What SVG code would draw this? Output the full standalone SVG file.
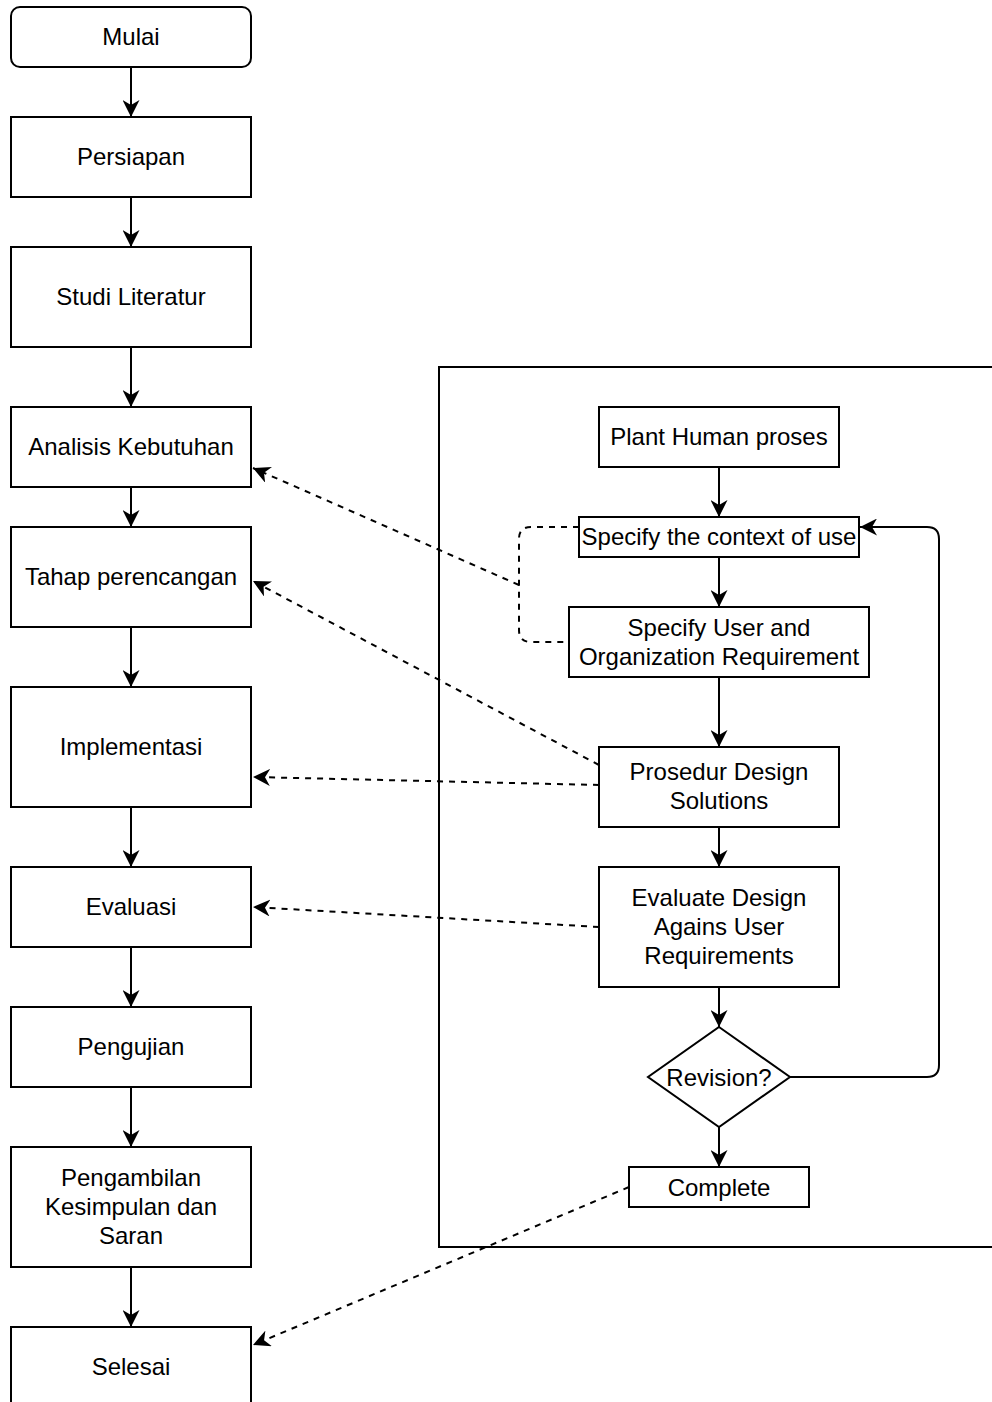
<svg xmlns="http://www.w3.org/2000/svg" width="992" height="1402" viewBox="0 0 992 1402">
<style>
.box{fill:#fff;stroke:#000;stroke-width:2}
.t{font-family:"Liberation Sans",Arial,sans-serif;font-size:24px;fill:#000;text-anchor:middle}
.c{fill:none;stroke:#000;stroke-width:2}
.d{fill:none;stroke:#000;stroke-width:2;stroke-dasharray:6 6}
</style>
<defs>
<marker id="a" viewBox="0 0 17 17" refX="17" refY="8.5" markerWidth="17" markerHeight="17" markerUnits="userSpaceOnUse" orient="auto">
<path d="M17,8.5 L0,0 L5,8.5 L0,17 Z" fill="#000"/>
</marker>
</defs>
<rect x="0" y="0" width="992" height="1402" fill="#fff"/>
<g id="container"><rect x="439" y="367" width="580" height="880" class="box" fill="none"/></g>
<g id="connectors">
<path class="c" marker-end="url(#a)" d="M131,67 V117"/>
<path class="c" marker-end="url(#a)" d="M131,197 V247"/>
<path class="c" marker-end="url(#a)" d="M131,347 V407"/>
<path class="c" marker-end="url(#a)" d="M131,487 V527"/>
<path class="c" marker-end="url(#a)" d="M131,627 V687"/>
<path class="c" marker-end="url(#a)" d="M131,807 V867"/>
<path class="c" marker-end="url(#a)" d="M131,947 V1007"/>
<path class="c" marker-end="url(#a)" d="M131,1087 V1147"/>
<path class="c" marker-end="url(#a)" d="M131,1267 V1327"/>
<path class="c" marker-end="url(#a)" d="M719,467 V517"/>
<path class="c" marker-end="url(#a)" d="M719,557 V607"/>
<path class="c" marker-end="url(#a)" d="M719,677 V747"/>
<path class="c" marker-end="url(#a)" d="M719,827 V867"/>
<path class="c" marker-end="url(#a)" d="M719,987 V1027"/>
<path class="c" marker-end="url(#a)" d="M719,1127 V1167"/>
<path class="c" marker-end="url(#a)" d="M790,1077 H927 Q939,1077 939,1065 V539 Q939,527 927,527 H860"/>
<path class="d" d="M579,527 H531 Q519,527 519,539 V630 Q519,642 531,642 H569"/>
<path class="d" marker-end="url(#a)" d="M519,585 L253,468"/>
<path class="d" marker-end="url(#a)" d="M599,765 L253,581"/>
<path class="d" marker-end="url(#a)" d="M599,785 L253,777"/>
<path class="d" marker-end="url(#a)" d="M599,927 L253,907"/>
<path class="d" marker-end="url(#a)" d="M629,1187 L253,1345"/>
</g>
<g id="mulai"><rect x="11" y="7" width="240" height="60" rx="9" class="box"/><text class="t" x="131" y="45">Mulai</text></g>
<g id="persiapan"><rect x="11" y="117" width="240" height="80" class="box"/><text class="t" x="131" y="165">Persiapan</text></g>
<g id="studi"><rect x="11" y="247" width="240" height="100" class="box"/><text class="t" x="131" y="305">Studi Literatur</text></g>
<g id="analisis"><rect x="11" y="407" width="240" height="80" class="box"/><text class="t" x="131" y="455">Analisis Kebutuhan</text></g>
<g id="tahap"><rect x="11" y="527" width="240" height="100" class="box"/><text class="t" x="131" y="585">Tahap perencangan</text></g>
<g id="implementasi"><rect x="11" y="687" width="240" height="120" class="box"/><text class="t" x="131" y="755">Implementasi</text></g>
<g id="evaluasi"><rect x="11" y="867" width="240" height="80" class="box"/><text class="t" x="131" y="915">Evaluasi</text></g>
<g id="pengujian"><rect x="11" y="1007" width="240" height="80" class="box"/><text class="t" x="131" y="1055">Pengujian</text></g>
<g id="pengambilan"><rect x="11" y="1147" width="240" height="120" class="box"/><text class="t" x="131" y="1186">Pengambilan</text><text class="t" x="131" y="1215">Kesimpulan dan</text><text class="t" x="131" y="1244">Saran</text></g>
<g id="selesai"><rect x="11" y="1327" width="240" height="84" class="box"/><text class="t" x="131" y="1375">Selesai</text></g>
<g id="plant"><rect x="599" y="407" width="240" height="60" class="box"/><text class="t" x="719" y="445">Plant Human proses</text></g>
<g id="context"><rect x="579" y="517" width="280" height="40" class="box"/><text class="t" x="719" y="545">Specify the context of use</text></g>
<g id="userreq"><rect x="569" y="607" width="300" height="70" class="box"/><text class="t" x="719" y="636">Specify User and</text><text class="t" x="719" y="665">Organization Requirement</text></g>
<g id="prosedur"><rect x="599" y="747" width="240" height="80" class="box"/><text class="t" x="719" y="780">Prosedur Design</text><text class="t" x="719" y="809">Solutions</text></g>
<g id="evaluate"><rect x="599" y="867" width="240" height="120" class="box"/><text class="t" x="719" y="906">Evaluate Design</text><text class="t" x="719" y="935">Agains User</text><text class="t" x="719" y="964">Requirements</text></g>
<g id="revision"><path d="M719,1027 L790,1077 L719,1127 L648,1077 Z" class="box"/><text class="t" x="719" y="1086">Revision?</text></g>
<g id="complete"><rect x="629" y="1167" width="180" height="40" class="box"/><text class="t" x="719" y="1196">Complete</text></g>
</svg>
